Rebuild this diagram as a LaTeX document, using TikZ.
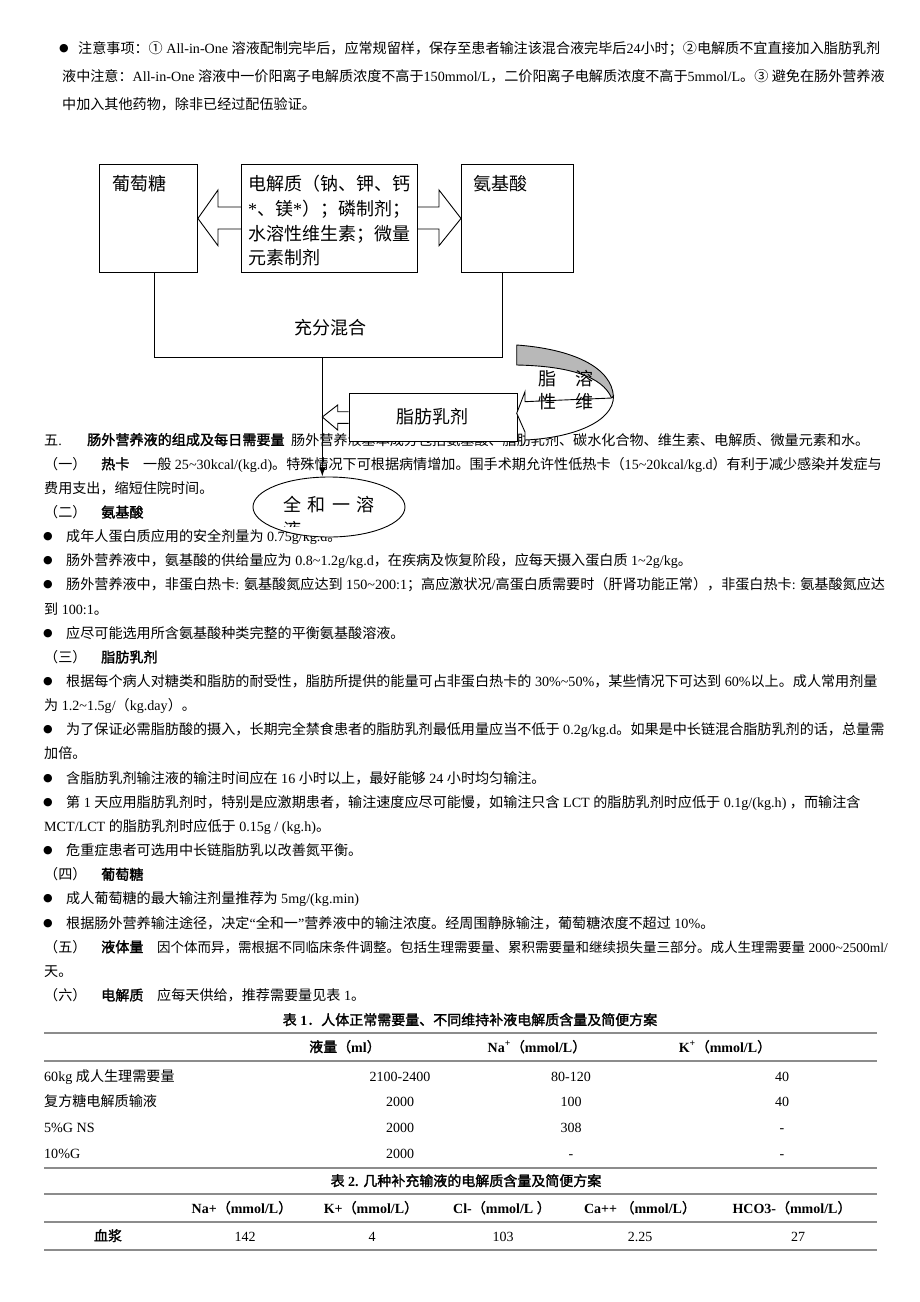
\documentclass[tikz,border=0pt]{standalone}
\usepackage{fontspec}
\setmainfont{Liberation Serif}
\newfontfamily\cjkfont[AutoFakeBold=1.6]{Noto Sans CJK SC}
\newfontfamily\symfont{DejaVu Sans}
\usetikzlibrary{arrows.meta,shapes.geometric}
\XeTeXinterchartokenstate=1
\newXeTeXintercharclass\cjkcls
\newcommand\setcls[2]{\count255=#1\relax\loop\XeTeXcharclass\count255=\cjkcls\advance\count255 by 1\relax\ifnum\count255<#2\repeat}
\setcls{"3000}{"3040}
\setcls{"4E00}{"A000}
\setcls{"FF00}{"FFF0}
\setcls{"2460}{"2500}
\XeTeXinterchartoks 0 \cjkcls = {\cjkfont}
\XeTeXinterchartoks 4095 \cjkcls = {\cjkfont}
\XeTeXinterchartoks \cjkcls 0 = {\rmfamily}
\XeTeXinterchartoks \cjkcls 4095 = {\rmfamily}
\newcommand\tld{\textasciitilde}
\newcommand\Ln[4]{\node[txt] (#1) at (#2,#3) {#4};}
\newcommand\Bu[2]{\node[bul] (#1) at (48,#2) {●};}
\tikzset{
  txt/.style={anchor=base west, inner sep=0pt, font=\fontsize{14.1}{16}\selectfont},
  txtc/.style={anchor=base, inner sep=0pt, font=\fontsize{14}{16}\selectfont},
  bul/.style={anchor=base, inner sep=0pt, yshift=2pt, font=\symfont\fontsize{11}{12}\selectfont},
  dg/.style={anchor=base west, inner sep=0pt, font=\fontsize{18}{20}\selectfont},
  ln/.style={draw=black, line width=0.9pt},
  boxn/.style={ln, fill=white, rectangle, anchor=north west, inner sep=0pt},
  thick rule/.style={draw=black!45, line width=2.4pt},
  thin rule/.style={draw=black!45, line width=1.3pt},
}
\begin{document}
\begin{tikzpicture}[x=1pt,y=-1pt]
\fill[white] (0,0) rectangle (920,1302);
\useasboundingbox (0,0) rectangle (920,1302);

% ---------- top notes ----------
\node[bul] (b0) at (64,53) {●};
\Ln{n1}{78}{53}{注意事项：① All-in-One 溶液配制完毕后，应常规留样，保存至患者输注该混合液完毕后24小时；②电解质不宜直接加入脂肪乳剂}
\Ln{n2}{62}{81}{液中注意：All-in-One 溶液中一价阳离子电解质浓度不高于150mmol/L，二价阳离子电解质浓度不高于5mmol/L。③ 避免在肠外营养液}
\Ln{n3}{62}{109}{中加入其他药物，除非已经过配伍验证。}

% ---------- body ----------
\Ln{s5}{44}{445}{五.}
\Ln{s5h}{87}{445}{\bfseries 肠外营养液的组成及每日需要量}
\Ln{s5t}{291}{445}{肠外营养液基本成分包括氨基酸、脂肪乳剂、碳水化合物、维生素、电解质、微量元素和水。}
\Ln{a1}{44}{469.15}{（一）}
\Ln{a1h}{101}{469.15}{\bfseries 热卡}
\Ln{a1t}{143}{469.15}{一般 25\tld30kcal/(kg.d)。特殊情况下可根据病情增加。围手术期允许性低热卡（15\tld20kcal/kg.d）有利于减少感染并发症与}
\Ln{a1u}{44}{493.3}{费用支出，缩短住院时间。}
\Ln{a2}{44}{517.45}{（二）}
\Ln{a2h}{101}{517.45}{\bfseries 氨基酸}
\Bu{b1}{541.6}\Ln{p1}{66}{541.6}{成年人蛋白质应用的安全剂量为 0.75g/kg.d。}
\Bu{b2}{565.75}\Ln{p2}{66}{565.75}{肠外营养液中，氨基酸的供给量应为 0.8\tld1.2g/kg.d，在疾病及恢复阶段，应每天摄入蛋白质 1\tld2g/kg。}
\Bu{b3}{589.9}\Ln{p3}{66}{589.9}{肠外营养液中，非蛋白热卡: 氨基酸氮应达到 150\tld200:1；高应激状况/高蛋白质需要时（肝肾功能正常），非蛋白热卡: 氨基酸氮应达}
\Ln{p3b}{44}{614.05}{到 100:1。}
\Bu{b4}{638.2}\Ln{p4}{66}{638.2}{应尽可能选用所含氨基酸种类完整的平衡氨基酸溶液。}
\Ln{a3}{44}{662.35}{（三）}
\Ln{a3h}{101}{662.35}{\bfseries 脂肪乳剂}
\Bu{b5}{686.5}\Ln{p5}{66}{686.5}{根据每个病人对糖类和脂肪的耐受性，脂肪所提供的能量可占非蛋白热卡的 30\%\tld50\%，某些情况下可达到 60\%以上。成人常用剂量}
\Ln{p5b}{44}{710.65}{为 1.2\tld1.5g/（kg.day）。}
\Bu{b6}{734.8}\Ln{p6}{66}{734.8}{为了保证必需脂肪酸的摄入，长期完全禁食患者的脂肪乳剂最低用量应当不低于 0.2g/kg.d。如果是中长链混合脂肪乳剂的话，总量需}
\Ln{p6b}{44}{758.95}{加倍。}
\Bu{b7}{783.1}\Ln{p7}{66}{783.1}{含脂肪乳剂输注液的输注时间应在 16 小时以上，最好能够 24 小时均匀输注。}
\Bu{b8}{807.25}\Ln{p8}{66}{807.25}{第 1 天应用脂肪乳剂时，特别是应激期患者，输注速度应尽可能慢，如输注只含 LCT 的脂肪乳剂时应低于 0.1g/(kg.h) ，而输注含}
\Ln{p8b}{44}{831.4}{MCT/LCT 的脂肪乳剂时应低于 0.15g / (kg.h)。}
\Bu{b9}{855.55}\Ln{p9}{66}{855.55}{危重症患者可选用中长链脂肪乳以改善氮平衡。}
\Ln{a4}{44}{879.7}{（四）}
\Ln{a4h}{101}{879.7}{\bfseries 葡萄糖}
\Bu{b10}{903.85}\Ln{p10}{66}{903.85}{成人葡萄糖的最大输注剂量推荐为 5mg/(kg.min)}
\Bu{b11}{928}\Ln{p11}{66}{928}{根据肠外营养输注途径，决定“全和一”营养液中的输注浓度。经周围静脉输注，葡萄糖浓度不超过 10\%。}
\Ln{a5}{44}{952.15}{（五）}
\Ln{a5h}{101}{952.15}{\bfseries 液体量}
\node[txt, font=\fontsize{13.5}{16}\selectfont] (a5t) at (157,952.15) {因个体而异，需根据不同临床条件调整。包括生理需要量、累积需要量和继续损失量三部分。成人生理需要量 2000\tld2500ml/};
\Ln{a5u}{44}{976.3}{天。}
\Ln{a6}{44}{1000.45}{（六）}
\Ln{a6h}{101}{1000.45}{\bfseries 电解质}
\Ln{a6t}{157}{1000.45}{应每天供给，推荐需要量见表 1。}

% ---------- table 1 ----------
\node[txtc] (t1) at (470,1025) {\bfseries 表 1．人体正常需要量、不同维持补液电解质含量及简便方案};
\draw[thick rule] (44,1033) -- (877,1033);
\node[txtc] (h1) at (345,1052) {\bfseries 液量（ml）};
\node[txtc] (h2) at (537,1052) {\bfseries Na\textsuperscript{+}（mmol/L）};
\node[txtc] (h3) at (725,1052) {\bfseries K\textsuperscript{+}（mmol/L）};
\draw[thin rule] (44,1061) -- (877,1061);
\Ln{r1}{44}{1081}{60kg 成人生理需要量}
\node[txtc] (r1a) at (400,1081) {2100-2400};
\node[txtc] (r1b) at (571,1081) {80-120};
\node[txtc] (r1c) at (782,1081) {40};
\Ln{r2}{44}{1106.5}{复方糖电解质输液}
\node[txtc] (r2a) at (400,1106.5) {2000};
\node[txtc] (r2b) at (571,1106.5) {100};
\node[txtc] (r2c) at (782,1106.5) {40};
\Ln{r3}{44}{1132.5}{5\%G NS}
\node[txtc] (r3a) at (400,1132.5) {2000};
\node[txtc] (r3b) at (571,1132.5) {308};
\node[txtc] (r3c) at (782,1132.5) {-};
\Ln{r4}{44}{1158}{10\%G}
\node[txtc] (r4a) at (400,1158) {2000};
\node[txtc] (r4b) at (571,1158) {-};
\node[txtc] (r4c) at (782,1158) {-};
\draw[thick rule] (44,1168) -- (877,1168);

% ---------- table 2 ----------
\node[txtc] (t2) at (466,1186) {\bfseries 表 2. 几种补充输液的电解质含量及简便方案};
\draw[thick rule] (44,1194) -- (877,1194);
\node[txtc] (k1) at (242,1213) {\bfseries Na+（mmol/L）};
\node[txtc] (k2) at (371,1213) {\bfseries K+（mmol/L）};
\node[txtc] (k3) at (502,1213) {\bfseries Cl-（mmol/L ）};
\node[txtc] (k4) at (640,1213) {\bfseries Ca++ （mmol/L）};
\node[txtc] (k5) at (792,1213) {\bfseries HCO3-（mmol/L）};
\draw[thick rule] (44,1222) -- (877,1222);
\node[txtc] (q0) at (108,1241) {\bfseries 血浆};
\node[txtc] (q1) at (245,1241) {142};
\node[txtc] (q2) at (372,1241) {4};
\node[txtc] (q3) at (503,1241) {103};
\node[txtc] (q4) at (640,1241) {2.25};
\node[txtc] (q5) at (798,1241) {27};
\draw[thick rule] (44,1250) -- (877,1250);

% ---------- diagram ----------
\node[boxn, minimum width=98pt, minimum height=108pt] (glu) at (99,164) {};
\node[boxn, minimum width=175.7pt, minimum height=108pt] (ele) at (241,164) {};
\node[boxn, minimum width=111.5pt, minimum height=108pt] (ami) at (461,164) {};
\node[dg] (glut) at (112.7,190) {葡萄糖};
\node[dg] (amit) at (473,190) {氨基酸};
\node[dg] (e1) at (248,190) {电解质（钠、钾、钙};
\node[dg] (e2) at (248,215.5) {*、镁*）；磷制剂；};
\node[dg] (e3) at (248,240) {水溶性维生素；微量};
\node[dg] (e4) at (248,264) {元素制剂};
% block arrows
\draw[ln, line join=miter] (ele.west |- 0,207) -- (218,207) -- (218,190) -- (glu.east) -- (218,245.7) -- (218,229) -- (ele.west |- 0,229);
\draw[ln, line join=miter] (ele.east |- 0,207) -- (439,207) -- (439,190) -- (ami.west) -- (439,245.7) -- (439,229) -- (ele.east |- 0,229);
% mixing
\coordinate (mix) at (322.3,357);
\draw[ln] (glu.south -| 154.3,0) -- (154.3,357) -- (502.7,357) -- (ami.south -| 502.7,0);
\node[dg, anchor=base] (mixt) at (330,334) {充分混合};
% ellipse
\node[ellipse, ln, fill=white, minimum width=152pt, minimum height=60pt, inner sep=0pt] (ell) at (329,507) {};
\draw[line width=1.2pt, -{Latex[length=9pt,width=6.5pt]}] (mix) -- (mix |- ell.north);
\node[dg] (allin) at (283,511) {全\hspace{6.5pt}和\hspace{6.5pt}一\hspace{6.5pt}溶};
\begin{scope}
\clip (250,470) rectangle (410,526);
\node[dg] (ye) at (283,536) {液};
\end{scope}
% fat emulsion
\node[boxn, minimum width=168pt, minimum height=48.3pt] (fat) at (348.7,392.7) {};
\filldraw[ln, fill=white, line join=miter] (fat.west |- 0,411.7) -- (337.7,411.7) -- (337.7,405) -- (mix |- 0,417) -- (337.7,430) -- (337.7,423.3) -- (fat.west |- 0,423.3);
\node[dg, anchor=center] (fatt) at (432.5,417) {脂肪乳剂};
% curved arrow
\filldraw[ln, fill=black!28] (516.7,345) .. controls (572,349) and (612,367) .. (613.5,397) -- (611.5,398) .. controls (603,377) and (570,366) .. (516.7,365) -- cycle;
\filldraw[ln, fill=white, line join=miter] (613.5,396) .. controls (614,422) and (572,438) .. (525,440) -- (525,432) -- (516.7,413.3) -- (525,391.7) -- (525,401.7) .. controls (560,400) and (590,399) .. (611.5,398) -- cycle;
\node[dg] (c1) at (538,385) {脂};
\node[dg] (c2) at (575,385) {溶};
\node[dg] (c3) at (538,408) {性};
\node[dg] (c4) at (575,408) {维};
\end{tikzpicture}
\end{document}
